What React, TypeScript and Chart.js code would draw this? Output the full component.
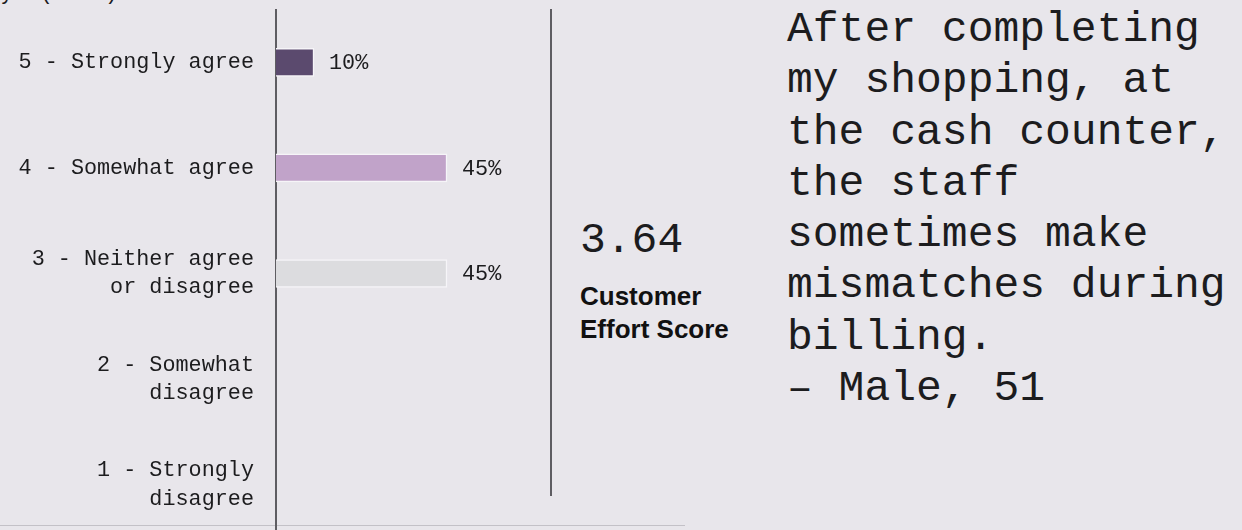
import React, { useEffect, useRef } from "react";
import { Chart, registerables } from "chart.js";

Chart.register(...registerables);

// ---- data ----
const categories: string[][] = [
  ["5 - Strongly agree"],
  ["4 - Somewhat agree"],
  ["3 - Neither agree", "or disagree"],
  ["2 - Somewhat", "disagree"],
  ["1 - Strongly", "disagree"],
];
const shares: number[] = [10, 45, 45, 0, 0];
const barColors: string[] = ["#5b4a6e", "#c1a3c9", "#dcdcdf", "#c9c8cc", "#b3b2b7"];
const axisMax = 70;
const headerText = "Survey  (n=20)";
const scoreValue = "3.64";
const scoreLabel: string[] = ["Customer", "Effort Score"];
const quoteLines: string[] = [
  "After completing",
  "my shopping, at",
  "the cash counter,",
  "the staff",
  "sometimes make",
  "mismatches during",
  "billing.",
  "\u2013 Male, 51",
];

const BG = "#e8e6eb";
const MONO = '"Liberation Mono", "DejaVu Sans Mono", monospace';
const SANS = '"Liberation Sans", Arial, sans-serif';
const TEXT = "#1c1c1e";

const valueLabelPlugin = {
  id: "valueLabels",
  afterDatasetsDraw(chart: any) {
    const { ctx } = chart;
    const meta = chart.getDatasetMeta(0);
    ctx.save();
    ctx.font = `21.8px ${MONO}`;
    ctx.fillStyle = TEXT;
    ctx.textAlign = "left";
    ctx.textBaseline = "middle";
    meta.data.forEach((bar: any, i: number) => {
      const v = shares[i];
      if (!v) return;
      ctx.fillText(`${v}%`, bar.x + 15, bar.y + 1);
    });
    ctx.restore();
  },
};

export default function App() {
  const canvasRef = useRef<HTMLCanvasElement | null>(null);

  useEffect(() => {
    document.body.style.margin = "0";
    document.body.style.background = BG;
    const canvas = canvasRef.current;
    if (!canvas) return;
    const chart = new Chart(canvas, {
      type: "bar",
      data: {
        labels: categories,
        datasets: [
          {
            data: shares,
            backgroundColor: barColors,
            borderColor: "#f6f5f8",
            borderWidth: 1.5,
            borderSkipped: "start",
            barThickness: 28,
          },
        ],
      },
      options: {
        indexAxis: "y",
        animation: false,
        responsive: false,
        maintainAspectRatio: false,
        layout: { padding: { top: 9.5, bottom: 8.5, left: 0, right: 0 } },
        plugins: {
          legend: { display: false },
          tooltip: { enabled: false },
        },
        scales: {
          x: { display: false, min: 0, max: axisMax },
          y: {
            afterFit: (s: any) => {
              s.width = 276;
              s.paddingTop = 0;
              s.paddingBottom = 0;
              s.paddingLeft = 0;
              s.paddingRight = 0;
            },
            grid: { display: false, drawTicks: false },
            border: { display: true, color: "#5e5d62", width: 2 },
            ticks: {
              padding: 22,
              color: TEXT,
              autoSkip: false,
              font: { family: MONO, size: 21.8, lineHeight: 1.3 },
            },
          },
        },
      },
      plugins: [valueLabelPlugin],
    } as any);
    return () => chart.destroy();
  }, []);

  return (
    <div
      style={{
        position: "fixed",
        left: 0,
        top: 0,
        width: 1242,
        height: 530,
        background: BG,
        overflow: "hidden",
      }}
    >
      <div
        style={{
          position: "absolute",
          left: -65,
          top: -20,
          fontFamily: MONO,
          fontSize: 21.8,
          lineHeight: "28.3px",
          color: TEXT,
          whiteSpace: "pre",
        }}
      >
        {headerText}
      </div>
      <div
        style={{
          position: "absolute",
          left: 0,
          top: 525,
          width: 685,
          height: 1,
          background: "#c3c1c7",
        }}
      />
      <canvas
        ref={canvasRef}
        width={542}
        height={546}
        style={{ position: "absolute", left: 0, top: 0, width: 542, height: 546 }}
      />
      <div
        style={{
          position: "absolute",
          left: 550,
          top: 9,
          width: 2,
          height: 487,
          background: "#5e5d62",
        }}
      />
      <div
        style={{
          position: "absolute",
          left: 580,
          top: 219,
          fontFamily: MONO,
          fontSize: 43,
          lineHeight: "43px",
          color: TEXT,
          whiteSpace: "pre",
        }}
      >
        {scoreValue}
      </div>
      <div
        style={{
          position: "absolute",
          left: 580,
          top: 279.5,
          fontFamily: SANS,
          fontWeight: 700,
          fontSize: 26,
          lineHeight: "33px",
          color: "#111",
          whiteSpace: "pre",
        }}
      >
        {scoreLabel.map((l, i) => (
          <div key={i}>{l}</div>
        ))}
      </div>
      <div
        style={{
          position: "absolute",
          left: 787,
          top: 4,
          fontFamily: MONO,
          fontSize: 43,
          lineHeight: "51.3px",
          color: TEXT,
          whiteSpace: "pre",
        }}
      >
        {quoteLines.map((l, i) => (
          <div key={i}>{l}</div>
        ))}
      </div>
    </div>
  );
}
